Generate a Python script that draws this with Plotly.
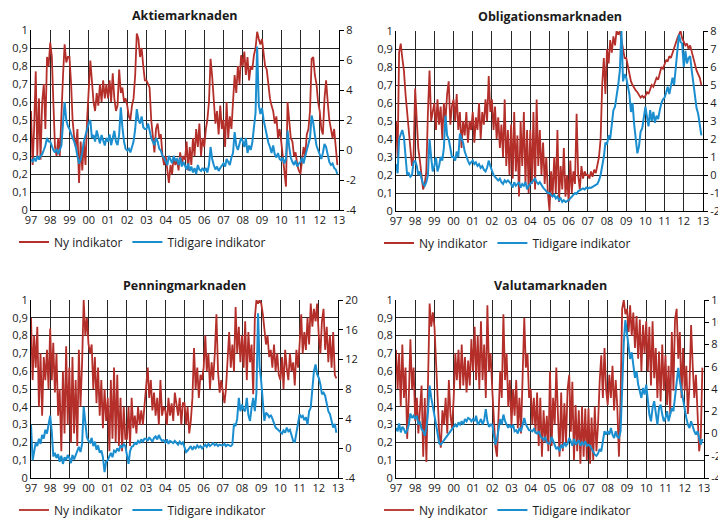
import pandas as pd
import plotly.graph_objects as go

# ---------------- data (monthly readings, Jan 1997 - Dec 2012) ----------------
months = pd.date_range("1997-01-01", "2012-12-01", freq="MS")

titles = ["Aktiemarknaden", "Obligationsmarknaden", "Penningmarknaden", "Valutamarknaden"]
series_names = ["Ny indikator", "Tidigare indikator"]

aktie_ny = [
    0.55, 0.25, 0.45, 0.77, 0.30, 0.62, 0.28, 0.60, 0.70, 0.45, 0.85, 0.80,
    0.93, 0.85, 0.60, 0.35, 0.30, 0.40, 0.30, 0.55, 0.75, 0.92, 0.82, 0.85,
    0.85, 0.70, 0.50, 0.40, 0.35, 0.45, 0.15, 0.38, 0.22, 0.38, 0.25, 0.50,
    0.65, 0.83, 0.72, 0.60, 0.55, 0.65, 0.58, 0.70, 0.60, 0.72, 0.62, 0.70,
    0.62, 0.72, 0.60, 0.76, 0.62, 0.55, 0.58, 0.78, 0.65, 0.68, 0.60, 0.62,
    0.58, 0.52, 0.50, 0.58, 0.62, 0.75, 0.98, 0.95, 0.85, 0.90, 0.80, 0.72,
    0.72, 0.70, 0.68, 0.50, 0.40, 0.32, 0.45, 0.48, 0.40, 0.42, 0.30, 0.25,
    0.30, 0.20, 0.15, 0.25, 0.20, 0.30, 0.25, 0.28, 0.22, 0.32, 0.25, 0.30,
    0.28, 0.38, 0.22, 0.35, 0.25, 0.40, 0.30, 0.45, 0.35, 0.48, 0.30, 0.40,
    0.35, 0.45, 0.50, 0.60, 0.84, 0.74, 0.62, 0.48, 0.55, 0.42, 0.58, 0.45,
    0.50, 0.35, 0.60, 0.40, 0.52, 0.45, 0.60, 0.75, 0.65, 0.80, 0.70, 0.86,
    0.80, 0.88, 0.75, 0.85, 0.72, 0.80, 0.78, 0.86, 0.90, 0.99, 0.95, 0.92,
    0.95, 0.88, 0.80, 0.78, 0.70, 0.62, 0.58, 0.55, 0.48, 0.52, 0.40, 0.45,
    0.38, 0.28, 0.20, 0.13, 0.60, 0.50, 0.40, 0.38, 0.30, 0.32, 0.25, 0.22,
    0.20, 0.28, 0.35, 0.30, 0.42, 0.45, 0.55, 0.84, 0.85, 0.75, 0.70, 0.60,
    0.55, 0.45, 0.42, 0.62, 0.72, 0.60, 0.50, 0.45, 0.40, 0.45, 0.35, 0.25,
]
aktie_tidigare = [
    -0.64, -0.76, -0.52, -0.76, -0.40, -0.64, -0.40, -0.28, 0.00, 0.30, 0.80, 0.56,
    0.56, 0.20, 0.00, -0.16, 0.08, -0.28, 0.00, 0.30, 1.80, 3.20, 2.00, 1.60,
    1.40, 1.00, 0.80, 0.56, 0.20, -0.40, -0.90, -0.64, -0.16, 0.56, 1.00, 1.40,
    1.80, 2.00, 0.80, 1.00, 0.56, 1.30, 0.80, 0.44, 1.00, 0.70, 0.30, 0.80,
    0.56, 1.04, 0.32, 0.80, 1.28, 0.56, 0.32, 1.04, 2.84, 1.52, 0.56, 0.08,
    -0.04, 0.08, -0.16, 0.20, 0.56, 1.40, 2.72, 2.00, 1.76, 2.24, 1.52, 1.40,
    1.40, 1.76, 1.28, 0.80, 0.56, 0.32, 0.80, 0.56, 0.08, -0.04, -0.40, -0.52,
    -0.76, -1.00, -0.40, -0.64, -0.88, -0.40, -0.70, -0.60, -1.00, -0.50, -1.10, -0.80,
    -1.00, -1.30, -0.90, -1.40, -1.10, -1.50, -1.20, -1.60, -1.00, -1.30, -1.40, -1.20,
    -1.40, -1.20, -1.50, -1.00, 0.20, -0.60, -1.00, -1.30, -1.10, -1.40, -1.20, -1.00,
    -0.90, -1.10, -0.60, -0.80, -1.00, -0.50, -0.20, 1.20, 0.30, 0.00, 0.50, 0.80,
    0.60, 0.20, 0.80, -0.20, 0.30, 0.00, 0.50, 1.70, 2.50, 6.90, 3.00, 2.40,
    2.80, 2.00, 1.50, 1.00, 0.50, 0.20, -0.20, 0.30, -0.30, -0.50, -0.20, -0.60,
    -0.70, -0.50, -0.90, -0.60, 1.30, 0.20, -0.50, -0.80, -1.00, -0.70, -1.10, -0.90,
    -0.80, -0.50, -0.90, -0.40, 0.00, 0.30, 0.80, 2.30, 1.80, 1.00, 0.30, 0.00,
    -0.30, -0.60, -0.20, 0.40, 0.20, -0.40, -0.80, -1.00, -0.90, -1.20, -1.30, -1.60,
]

oblig_ny = [
    0.50, 0.30, 0.88, 0.93, 0.85, 0.78, 0.65, 0.55, 0.42, 0.35, 0.25, 0.30,
    0.68, 0.50, 0.35, 0.28, 0.20, 0.12, 0.15, 0.22, 0.55, 0.78, 0.50, 0.55,
    0.60, 0.45, 0.62, 0.48, 0.58, 0.40, 0.60, 0.50, 0.65, 0.72, 0.48, 0.58,
    0.62, 0.50, 0.65, 0.45, 0.55, 0.35, 0.50, 0.42, 0.55, 0.38, 0.50, 0.45,
    0.55, 0.38, 0.52, 0.45, 0.60, 0.40, 0.55, 0.48, 0.62, 0.50, 0.75, 0.55,
    0.62, 0.45, 0.58, 0.40, 0.52, 0.35, 0.48, 0.30, 0.62, 0.25, 0.45, 0.20,
    0.48, 0.18, 0.55, 0.22, 0.42, 0.08, 0.50, 0.25, 0.55, 0.15, 0.45, 0.10,
    0.45, 0.15, 0.55, 0.12, 0.62, 0.25, 0.45, 0.20, 0.38, 0.15, 0.30, 0.10,
    0.00, 0.22, 0.08, 0.30, 0.10, 0.45, 0.05, 0.25, 0.12, 0.35, 0.08, 0.20,
    0.05, 0.28, 0.10, 0.22, 0.15, 0.54, 0.20, 0.12, 0.25, 0.18, 0.22, 0.20,
    0.20, 0.18, 0.22, 0.19, 0.23, 0.21, 0.26, 0.30, 0.40, 0.70, 0.85, 0.65,
    0.90, 0.82, 0.95, 0.88, 0.97, 0.92, 1.00, 0.98, 1.00, 0.95, 0.90, 0.85,
    0.85, 0.80, 0.76, 0.72, 0.70, 0.68, 0.67, 0.66, 0.64, 0.63, 0.64, 0.63,
    0.64, 0.66, 0.65, 0.68, 0.70, 0.69, 0.72, 0.74, 0.73, 0.77, 0.80, 0.79,
    0.82, 0.84, 0.83, 0.86, 0.85, 0.88, 0.90, 0.93, 0.96, 0.98, 1.00, 0.96,
    0.94, 0.92, 0.93, 0.90, 0.92, 0.88, 0.85, 0.82, 0.78, 0.76, 0.74, 0.70,
]
oblig_tidigare = [
    0.6, 0.1, 2.0, 2.3, 2.5, 2.1, 1.0, 0.0, 0.1, -0.1, 0.0, 0.7,
    0.8, 0.5, 0.0, 0.2, -0.2, -0.5, -0.6, -0.4, 0.0, 2.0, 1.0, 0.2,
    0.5, 1.0, 0.2, 0.5, 1.0, 0.8, 1.5, 3.3, 2.2, 2.0, 1.5, 1.0,
    1.0, 0.8, 1.3, 1.0, 2.3, 2.0, 1.8, 1.3, 1.0, 0.8, 0.6, 0.7,
    0.8, 0.6, 0.7, 0.5, 0.6, 0.4, 0.5, 0.3, 0.2, 0.4, 0.8, 0.5,
    0.2, 0.0, -0.1, -0.2, -0.3, -0.2, -0.4, -0.5, -0.3, -0.4, -0.3, -0.4,
    -0.5, -0.7, -0.4, -0.6, -0.5, -0.4, -0.7, -0.5, -0.6, -0.4, -0.8, -0.6,
    -0.5, -0.4, -0.3, -0.2, -0.4, -0.5, -0.4, -0.6, -0.7, -0.8, -0.9, -1.0,
    -1.0, -1.1, -1.2, -1.1, -1.3, -1.2, -1.4, -1.3, -1.5, -1.4, -1.5, -1.45,
    -1.4, -1.3, -1.2, -1.1, -1.0, -1.05, -0.9, -0.85, -0.8, -0.75, -0.8, -0.7,
    -0.75, -0.7, -0.72, -0.65, -0.6, -0.55, -0.5, -0.3, 0.0, 0.5, 1.0, 1.8,
    1.7, 2.2, 2.0, 2.8, 3.6, 3.8, 4.3, 5.0, 5.8, 8.0, 5.2, 5.6,
    5.4, 5.0, 4.5, 3.5, 4.0, 2.8, 1.9, 1.2, 1.6, 2.4, 2.6, 3.2,
    3.8, 3.2, 2.7, 3.6, 3.0, 3.5, 2.9, 3.3, 3.1, 3.6, 4.0, 4.2,
    4.3, 4.6, 4.9, 4.5, 5.0, 5.4, 5.0, 6.2, 6.9, 7.8, 7.4, 7.3,
    6.0, 6.9, 6.2, 6.5, 6.6, 5.8, 5.0, 4.5, 3.7, 3.4, 2.9, 2.2,
]

penning_ny = [
    0.90, 0.55, 0.80, 0.62, 0.85, 0.40, 0.70, 0.35, 0.68, 0.55, 0.72, 0.50,
    0.84, 0.55, 0.76, 0.48, 0.70, 0.35, 0.50, 0.15, 0.60, 0.25, 0.74, 0.30,
    0.62, 0.20, 0.68, 0.25, 0.55, 0.18, 0.72, 0.40, 0.65, 1.00, 0.80, 0.90,
    0.75, 0.70, 0.75, 0.50, 0.68, 0.42, 0.62, 0.35, 0.55, 0.28, 0.50, 0.32,
    0.45, 0.15, 0.55, 0.22, 0.62, 0.20, 0.58, 0.18, 0.45, 0.15, 0.40, 0.22,
    0.22, 0.40, 0.18, 0.45, 0.28, 0.35, 0.25, 0.40, 0.30, 0.38, 0.30, 0.42,
    0.50, 0.62, 0.45, 0.55, 0.38, 0.48, 0.35, 0.45, 0.30, 0.55, 0.35, 0.40,
    0.38, 0.30, 0.45, 0.35, 0.42, 0.32, 0.48, 0.40, 0.35, 0.45, 0.30, 0.42,
    0.42, 0.30, 0.40, 0.25, 0.32, 0.45, 0.73, 0.50, 0.62, 0.45, 0.58, 0.55,
    0.62, 0.80, 0.60, 0.70, 0.50, 0.65, 0.55, 0.70, 0.92, 0.60, 0.48, 0.55,
    0.48, 0.42, 0.50, 0.70, 0.82, 0.62, 0.75, 0.60, 0.96, 0.70, 0.85, 0.65,
    0.80, 0.62, 0.88, 0.55, 0.82, 0.65, 0.75, 0.47, 0.90, 1.00, 0.98, 1.00,
    0.98, 0.92, 0.85, 0.75, 0.80, 0.68, 0.72, 0.62, 0.75, 0.60, 0.70, 0.58,
    0.55, 0.68, 0.50, 0.72, 0.62, 0.55, 0.70, 0.60, 0.65, 0.52, 0.72, 0.62,
    0.75, 0.92, 0.70, 0.82, 0.72, 0.90, 0.75, 0.98, 0.85, 0.95, 0.88, 0.98,
    0.80, 0.70, 0.88, 0.95, 0.72, 0.85, 0.65, 0.80, 0.62, 0.82, 0.58, 0.56,
]
penning_tidigare = [
    3.2, -1.6, -0.5, 0.8, 0.3, 1.3, 0.6, 1.8, 1.3, 2.5, 2.0, 3.0,
    4.4, 2.2, -1.1, -0.6, -1.3, -0.8, -1.8, -1.0, -2.1, -1.2, -1.6, -0.9,
    -1.3, -2.0, -0.9, -1.5, -1.0, -0.3, 0.2, -0.5, 0.6, 5.6, 3.0, 1.5,
    1.0, 0.8, 1.4, 0.3, 0.9, -0.2, 0.4, -0.6, -0.3, -1.2, -3.2, -1.8,
    -1.6, -1.0, -0.6, -1.2, -0.3, -0.5, 0.0, -0.4, 0.4, 0.1, 0.6, 0.3,
    -1.2, -2.1, -0.4, 0.2, 0.3, 0.8, 0.5, 1.0, 0.7, 1.2, 0.9, 1.3,
    1.3, 1.0, 1.5, 1.2, 0.9, 1.4, 1.6, 1.2, 1.8, 1.3, 1.0, 1.1,
    0.8, 1.2, 0.6, 1.0, 0.9, 0.7, 1.0, 0.8, 0.5, 0.9, 0.6, 0.8,
    0.2, -0.5, -0.3, 0.0, 0.3, -0.2, 0.2, 0.0, 0.4, 0.1, 0.3, 0.0,
    0.3, 0.5, 0.2, 0.6, 0.3, 0.5, 0.7, 0.4, 0.6, 0.3, 0.5, 0.4,
    0.4, 0.6, 0.3, 0.5, 0.4, 0.3, 0.5, 3.3, 3.0, 4.0, 6.8, 5.0,
    5.9, 5.2, 5.0, 6.8, 4.5, 3.7, 5.5, 6.8, 5.0, 7.5, 18.2, 11.0,
    9.0, 6.0, 3.7, 4.8, 4.6, 4.2, 4.5, 4.0, 3.5, 2.8, 2.6, 2.4,
    2.2, 2.0, 2.4, 2.1, 2.8, 2.3, 2.5, 1.8, 1.0, 0.8, 2.0, 3.3,
    4.6, 4.2, 4.4, 3.8, 4.2, 3.2, 5.0, 5.5, 7.7, 10.4, 11.3, 10.0,
    9.5, 8.6, 7.3, 7.5, 7.1, 5.9, 5.0, 4.6, 3.7, 2.8, 3.3, 2.1,
]

valuta_ny = [
    0.72, 0.50, 0.70, 0.40, 0.75, 0.45, 0.62, 0.22, 0.45, 0.78, 0.50, 0.62,
    0.32, 0.45, 0.25, 0.40, 0.52, 0.12, 0.45, 0.09, 0.55, 0.98, 0.85, 0.93,
    0.85, 0.62, 0.40, 0.25, 0.17, 0.38, 0.30, 0.45, 0.25, 0.55, 0.35, 0.28,
    0.45, 0.70, 0.55, 0.72, 0.50, 0.75, 0.52, 0.68, 0.48, 0.66, 0.52, 0.78,
    0.60, 0.85, 0.55, 0.80, 0.50, 0.88, 0.55, 0.75, 0.45, 0.97, 0.60, 0.70,
    0.50, 0.30, 0.18, 0.12, 0.40, 0.60, 0.45, 0.92, 0.55, 0.70, 0.40, 0.55,
    0.30, 0.50, 0.35, 0.55, 0.28, 0.45, 0.25, 0.55, 0.90, 0.62, 0.70, 0.45,
    0.50, 0.30, 0.45, 0.25, 0.48, 0.18, 0.45, 0.12, 0.38, 0.20, 0.35, 0.15,
    0.60, 0.18, 0.45, 0.30, 0.62, 0.35, 0.12, 0.48, 0.15, 0.42, 0.20, 0.50,
    0.58, 0.26, 0.54, 0.10, 0.41, 0.15, 0.38, 0.08, 0.40, 0.12, 0.39, 0.10,
    0.39, 0.08, 0.34, 0.10, 0.40, 0.15, 0.30, 0.54, 0.69, 0.45, 0.73, 0.50,
    0.41, 0.58, 0.45, 0.63, 0.38, 0.55, 0.40, 0.12, 0.45, 0.95, 1.00, 0.92,
    0.95, 0.82, 0.97, 0.80, 0.93, 0.73, 0.91, 0.67, 0.89, 0.60, 0.86, 0.70,
    0.88, 0.60, 0.85, 0.52, 0.88, 0.56, 0.73, 0.45, 0.71, 0.43, 0.75, 0.49,
    0.69, 0.41, 0.63, 0.36, 0.82, 0.49, 0.89, 0.95, 0.67, 0.82, 0.45, 0.73,
    0.49, 0.63, 0.36, 0.52, 0.86, 0.63, 0.45, 0.58, 0.36, 0.15, 0.23, 0.62,
]
valuta_tidigare = [
    0.5, 0.2, 0.9, 0.1, 0.6, 0.4, 0.0, 0.3, 0.8, 1.8, 1.4, 1.6,
    1.3, 1.6, 0.9, 1.0, 0.4, 0.2, -0.2, 0.5, 2.0, 4.3, 3.2, 2.5,
    1.8, 0.8, 0.0, -0.9, -1.0, -0.8, -0.6, -0.5, -0.3, 0.0, 0.2, 0.3,
    0.5, 0.8, 0.6, 1.0, 0.8, 1.1, 0.8, 1.3, 1.1, 1.4, 1.3, 1.1,
    1.3, 1.1, 1.6, 0.8, 1.0, 1.3, 0.8, 1.2, 2.2, 1.1, 0.6, 0.8,
    0.8, 0.0, -1.0, -0.5, 0.5, 1.3, 0.8, 1.7, 1.1, 0.8, 0.5, 0.8,
    0.5, 0.8, 0.2, 0.3, 0.0, 0.5, 0.2, 0.8, 1.4, 0.8, 0.5, 0.3,
    0.3, 0.2, 0.4, 0.1, 0.0, 0.2, -0.2, -0.4, -0.6, -0.3, -0.8, -0.9,
    -0.9, -0.3, -0.7, -1.0, -1.4, -1.2, -1.6, -1.0, -1.3, -0.8, -1.1, -0.9,
    -0.4, -0.7, -1.1, -0.5, -1.0, -0.8, -0.6, -1.1, -0.8, -1.0, -0.7, -1.1,
    -1.0, -1.1, -1.4, -1.6, -1.9, -2.0, -1.8, -1.4, -1.6, -0.7, 0.2, -0.1,
    0.2, -0.1, 0.5, -0.1, -0.4, 0.2, -0.3, -0.4, 0.2, 4.0, 8.2, 10.2,
    8.8, 7.9, 6.7, 7.3, 6.2, 5.0, 5.6, 4.4, 3.8, 3.2, 4.1, 3.5,
    4.4, 3.2, 1.7, 1.1, 2.3, 2.9, 2.0, 0.8, 2.3, 2.6, 1.7, 1.1,
    1.4, 2.0, 1.1, 1.7, 2.3, 2.0, 3.2, 4.7, 5.9, 4.7, 3.8, 3.2,
    2.3, 1.4, 0.8, 0.5, 1.1, 0.5, 0.2, -0.1, 0.2, -0.4, -1.0, -0.5,
]

# tick labels
year_labels = ["97", "98", "99", "00", "01", "02", "03", "04", "05", "06",
               "07", "08", "09", "10", "11", "12", "13"]
year_ticks = pd.to_datetime([f"{y}-01-01" for y in range(1997, 2014)])
left_ticks = [0, 0.1, 0.2, 0.3, 0.4, 0.5, 0.6, 0.7, 0.8, 0.9, 1.0]
left_labels = ["0", "0,1", "0,2", "0,3", "0,4", "0,5", "0,6", "0,7", "0,8", "0,9", "1"]
aktie_right_ticks = [-4, -2, 0, 2, 4, 6, 8]
oblig_right_ticks = [-2, -1, 0, 1, 2, 3, 4, 5, 6, 7, 8]
penning_right_ticks = [-4, 0, 4, 8, 12, 16, 20]
valuta_right_ticks = [-4, -2, 0, 2, 4, 6, 8, 10, 12]

# ---------------- figure ----------------
W, H = 718, 520
RED = "#B52F2A"
BLUE = "#1A8ECF"
GRID = "#262626"
FONT = "Open Sans"

panels = [
    dict(title=titles[0], ny=aktie_ny, ti=aktie_tidigare, rt=aktie_right_ticks,
         px=(31, 339), py=(30, 210)),
    dict(title=titles[1], ny=oblig_ny, ti=oblig_tidigare, rt=oblig_right_ticks,
         px=(396, 703), py=(31, 211)),
    dict(title=titles[2], ny=penning_ny, ti=penning_tidigare, rt=penning_right_ticks,
         px=(31, 338), py=(300, 478)),
    dict(title=titles[3], ny=valuta_ny, ti=valuta_tidigare, rt=valuta_right_ticks,
         px=(396, 704), py=(300, 478)),
]

fig = go.Figure()
layout = dict(
    width=W, height=H, margin=dict(l=0, r=0, t=0, b=0, autoexpand=False),
    paper_bgcolor="white", plot_bgcolor="white",
    font=dict(family=FONT, size=11, color="#1a1a1a"),
    annotations=[],
)

for i, p in enumerate(panels, start=1):
    xname = "x" if i == 1 else f"x{i}"
    yl = "y" if i == 1 else f"y{i}"
    yr = f"y{i + 4}"
    legname = "legend" if i == 1 else f"legend{i}"
    xd = [p["px"][0] / W, p["px"][1] / W]
    yd = [1 - p["py"][1] / H, 1 - p["py"][0] / H]

    fig.add_trace(go.Scatter(
        x=months, y=p["ny"], name=series_names[0], mode="lines",
        line=dict(color=RED, width=1.8), xaxis=xname, yaxis=yl, legend=legname))
    fig.add_trace(go.Scatter(
        x=months, y=p["ti"], name=series_names[1], mode="lines",
        line=dict(color=BLUE, width=2), xaxis=xname, yaxis=yr, legend=legname))

    layout["xaxis" if i == 1 else f"xaxis{i}"] = dict(
        domain=xd, anchor=yl, range=["1997-01-01", "2013-01-01"],
        tickvals=year_ticks, ticktext=year_labels, ticks="",
        showgrid=True, gridcolor=GRID, gridwidth=1,
        showline=True, linecolor="black", linewidth=1,
        tickfont=dict(size=11), zeroline=False, automargin=False,
        ticklabeloverflow="allow")
    layout["yaxis" if i == 1 else f"yaxis{i}"] = dict(
        domain=yd, anchor=xname, range=[0, 1],
        tickvals=left_ticks, ticktext=left_labels, ticks="",
        showgrid=True, gridcolor=GRID, gridwidth=1,
        showline=True, linecolor="black", linewidth=1, zeroline=False,
        tickfont=dict(size=11), automargin=False, ticklabeloverflow="allow")
    rt = p["rt"]
    layout[f"yaxis{i + 4}"] = dict(
        overlaying=yl, anchor=xname, side="right",
        range=[rt[0], rt[-1]], tickvals=rt, ticktext=[str(v) for v in rt],
        ticks="outside", ticklen=4, tickcolor="black",
        showgrid=False, showline=True, linecolor="black", linewidth=1,
        zeroline=False, tickfont=dict(size=11), automargin=False,
        ticklabeloverflow="allow")
    layout[legname] = dict(
        orientation="h", x=(p["px"][0] - 17) / W, xanchor="left",
        y=1 - (p["py"][1] + 32) / H, yanchor="middle",
        font=dict(size=12), bgcolor="rgba(0,0,0,0)")
    layout["annotations"].append(dict(
        text=f"<b>{p['title']}</b>", x=(xd[0] + xd[1]) / 2, xref="paper",
        y=1 - (p["py"][0] - 15) / H, yref="paper", xanchor="center", yanchor="middle",
        showarrow=False, font=dict(size=12.5, family=FONT, color="#1a1a1a")))

fig.update_layout(**layout)
fig.write_html("out.html", config={"displayModeBar": False},
               post_script="document.body.style.margin='0px';")
